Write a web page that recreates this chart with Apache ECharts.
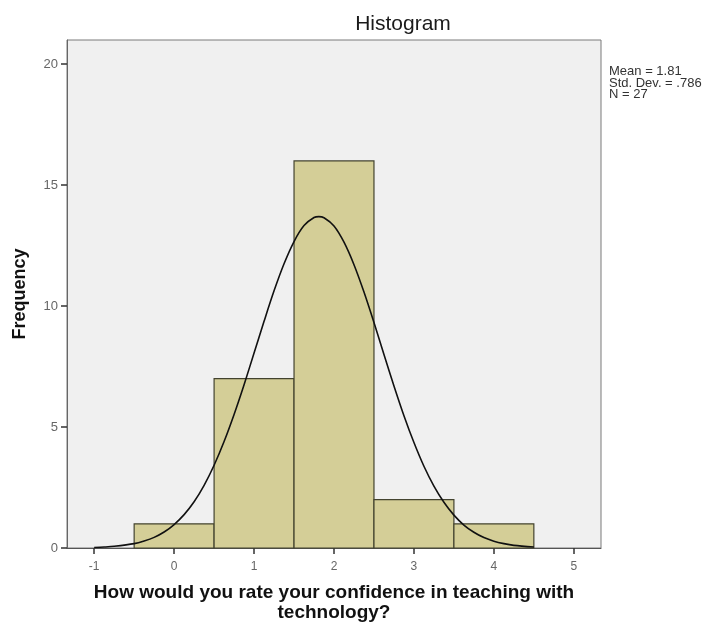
<!DOCTYPE html>
<html>
<head>
<meta charset="utf-8">
<script src="https://cdn.jsdelivr.net/npm/echarts@6/dist/echarts.min.js"></script>
<style>
html,body{margin:0;padding:0;background:#fff;}
#chart{width:710px;height:628px;}
</style>
</head>
<body>
<div id="chart"></div>
<script>
// Histogram bins (rating values) and frequencies
const binStart = [-0.5, 0.5, 1.5, 2.5, 3.5];
const binEnd   = [0.5, 1.5, 2.5, 3.5, 4.5];
const counts   = [1, 7, 16, 2, 1];

// Normal curve
const curveX = [-1, -0.875, -0.75, -0.5, -0.375, -0.25, -0.125, 0, 0.125, 0.25, 0.375, 0.5, 0.625, 0.75, 0.875, 1, 1.125, 1.25, 1.375, 1.5, 1.625, 1.75, 1.81, 1.875, 2, 2.125, 2.25, 2.375, 2.5, 2.625, 2.75, 2.875, 3, 3.125, 3.25, 3.375, 3.5, 3.625, 3.75, 3.875, 4, 4.125, 4.25, 4.5];
const curveY = [0.02, 0.04, 0.07, 0.18, 0.29, 0.44, 0.66, 0.97, 1.38, 1.91, 2.59, 3.42, 4.40, 5.52, 6.75, 8.06, 9.37, 10.63, 11.75, 12.67, 13.33, 13.66, 13.70, 13.65, 13.31, 12.64, 11.71, 10.58, 9.32, 8.00, 6.70, 5.47, 4.36, 3.38, 2.56, 1.89, 1.36, 0.95, 0.65, 0.43, 0.28, 0.18, 0.11, 0.04];

const statsLines = ['Mean = 1.81', 'Std. Dev. = .786', 'N = 27'];
const titleText = 'Histogram';
const xName = 'How would you rate your confidence in teaching with\ntechnology?';
const yName = 'Frequency';

const FONT = '"Liberation Sans", Arial, sans-serif';

const chart = echarts.init(document.getElementById('chart'), null, {renderer: 'canvas'});

const barData = binStart.map((s, i) => [s, binEnd[i], counts[i]]);
const curveData = curveX.map((x, i) => [x, curveY[i]]);

const isInt = v => Math.abs(v - Math.round(v)) < 1e-6;

chart.setOption({
  animation: false,
  backgroundColor: '#ffffff',
  title: {
    text: titleText,
    left: 398, top: 9,
    textAlign: 'center',
    textStyle: {fontFamily: FONT, fontSize: 21, fontWeight: 'normal', color: '#1a1a1a'}
  },
  graphic: [{
    type: 'text',
    left: 609, top: 65,
    style: {
      text: statsLines.join('\n'),
      font: '13px ' + FONT,
      lineHeight: 11.5,
      fill: '#333'
    }
  }],
  grid: {
    left: 67, right: 109, top: 40, bottom: 80,
    show: true,
    backgroundColor: '#f0f0f0',
    borderColor: '#7a7a7a',
    borderWidth: 1
  },
  xAxis: {
    type: 'value',
    min: -1.34, max: 5.34,
    splitLine: {show: false},
    axisLine: {show: true, onZero: false, lineStyle: {color: '#555', width: 1}},
    axisTick: {show: true, length: 6, lineStyle: {color: '#333', width: 1.5}},
    axisLabel: {
      margin: 13,
      showMinLabel: false, showMaxLabel: false,
      fontFamily: FONT, fontSize: 12, color: '#666',
      formatter: v => isInt(v) ? String(Math.round(v)) : ''
    },
    name: xName,
    nameLocation: 'middle',
    nameGap: 35,
    nameTextStyle: {fontFamily: FONT, fontSize: 19, fontWeight: 'bold', color: '#111', lineHeight: 20}
  },
  yAxis: {
    type: 'value',
    min: 0, max: 21, interval: 5,
    splitLine: {show: false},
    axisLine: {show: true, onZero: false, lineStyle: {color: '#666', width: 1}},
    axisTick: {show: true, length: 6, lineStyle: {color: '#333', width: 1.5}},
    axisLabel: {
      margin: 9,
      showMaxLabel: false,
      fontFamily: FONT, fontSize: 13, color: '#666',
      formatter: v => isInt(v) && v % 5 === 0 ? String(v) : ''
    },
    name: yName,
    nameLocation: 'middle',
    nameGap: 38,
    nameTextStyle: {fontFamily: FONT, fontSize: 18, fontWeight: 'bold', color: '#111'}
  },
  series: [
    {
      type: 'custom',
      data: barData,
      encode: {x: [0, 1], y: 2},
      renderItem: function (params, api) {
        const p0 = api.coord([api.value(0), 0]);
        const p1 = api.coord([api.value(1), api.value(2)]);
        return {
          type: 'rect',
          shape: {x: p0[0], y: p1[1], width: p1[0] - p0[0], height: p0[1] - p1[1]},
          style: {fill: '#d4ce97', stroke: '#43432f', lineWidth: 1.2}
        };
      },
      z: 2
    },
    {
      type: 'line',
      data: curveData,
      smooth: 0.3,
      showSymbol: false,
      symbol: 'none',
      lineStyle: {color: '#111', width: 1.6},
      z: 3
    }
  ]
});
</script>
</body>
</html>
